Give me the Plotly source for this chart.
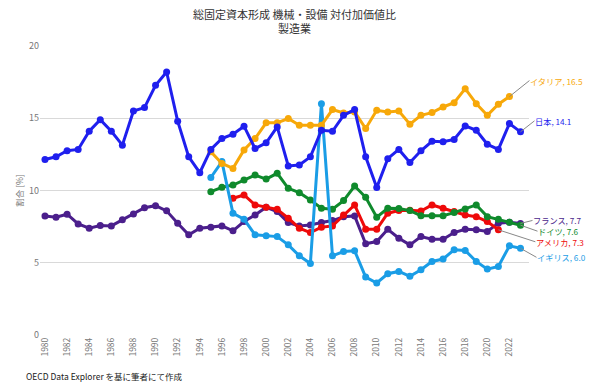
import plotly.graph_objects as go

years = list(range(1980, 2024))

japan = [12.15, 12.33, 12.75, 12.84, 14.1, 14.9, 14.1, 13.14, 15.5, 15.74, 17.28, 18.2,
         14.8, 12.33, 11.23, 12.84, 13.6, 13.9, 14.45, 12.9, 13.3, 14.4, 11.7, 11.76,
         12.33, 14.17, 14.1, 15.2, 15.6, 12.33, 10.2, 12.2, 12.84, 11.94, 12.75, 13.4,
         13.37, 13.53, 14.47, 14.17, 13.2, 12.84, 14.63, 14.06]
france = [8.24, 8.15, 8.36, 7.69, 7.39, 7.57, 7.55, 7.97, 8.38, 8.81, 8.95, 8.59,
          7.74, 6.93, 7.39, 7.46, 7.55, 7.21, 7.85, 8.31, 8.84, 8.54, 7.78, 7.55,
          7.62, 7.78, 7.92, 8.19, 8.24, 6.31, 6.47, 7.32, 6.7, 6.24, 6.81, 6.63,
          6.63, 7.09, 7.32, 7.28, 7.16, 7.74, 7.81, 7.72]
italy_years = list(range(1995, 2023))
italy = [12.68, 11.87, 11.53, 12.8, 13.6, 14.68, 14.68, 14.98, 14.52, 14.52, 14.52,
         15.6, 15.37, 15.44, 14.29, 15.55, 15.44, 15.5, 14.59, 15.2, 15.39, 15.78,
         16.08, 17.05, 16.01, 15.2, 15.97, 16.5]
uk_years = list(range(1995, 2024))
uk = [10.9, 12.0, 8.43, 8.01, 6.93, 6.86, 6.81, 6.24, 5.48, 4.95, 16.0, 5.48, 5.78,
      5.83, 4.01, 3.6, 4.24, 4.4, 4.06, 4.52, 5.09, 5.26, 5.9, 5.85, 5.09, 4.56,
      4.74, 6.17, 6.0]
germany_years = list(range(1995, 2024))
germany = [9.92, 10.22, 10.38, 10.72, 11.07, 10.79, 11.19, 10.15, 9.85, 9.34, 8.77,
           8.7, 9.3, 10.31, 9.53, 8.15, 8.77, 8.75, 8.61, 8.26, 8.26, 8.26, 8.47,
           8.72, 9.0, 8.19, 8.01, 7.81, 7.6]
usa_years = list(range(1997, 2022))
usa = [9.46, 9.69, 9.0, 8.84, 8.7, 8.08, 7.39, 7.09, 7.46, 7.55, 8.31, 9.0, 7.32,
       7.32, 8.43, 8.61, 8.63, 8.58, 9.0, 8.77, 8.54, 8.31, 8.19, 7.85, 7.28]

series = [
    ("フランス", years, france, "#4b1f8c", "フランス, 7.7", 12, -3),
    ("アメリカ", usa_years, usa, "#ee0a0a", "アメリカ, 7.3", 37, 12),
    ("ドイツ", germany_years, germany, "#0f8a2c", "ドイツ, 7.6", 17, 6),
    ("イギリス", uk_years, uk, "#1a9de6", "イギリス, 6.0", 16, 9),
    ("イタリア", italy_years, italy, "#f7a809", "イタリア, 16.5", 20, -16),
    ("日本", years, japan, "#1f1fee", "日本, 14.1", 14, -11),
]

title_font = "Noto Sans CJK JP, Noto Sans, sans-serif"

fig = go.Figure()
annotations = []
for name, xs, ys, color, label, ax, ay in series:
    fig.add_trace(go.Scatter(
        x=xs, y=ys, mode="lines+markers", name=name,
        line=dict(color=color, width=3),
        marker=dict(color=color, size=7),
        showlegend=False,
    ))
    annotations.append(dict(
        x=xs[-1], y=ys[-1], xref="x", yref="y", text=label,
        showarrow=True, arrowhead=0, arrowwidth=1, arrowcolor="#888888",
        ax=ax, ay=ay, xanchor="left", yanchor="middle",
        borderpad=0,
        font=dict(color=color, size=8.2, family=title_font),
    ))

annotations.append(dict(
    x=0.5, y=1.0, xref="paper", yref="paper", yanchor="bottom",
    text="総固定資本形成 機械・設備 対付加価値比<br>製造業", showarrow=False,
    xshift=10, yshift=8,
    font=dict(size=11, color="#333333", family=title_font),
))
annotations.append(dict(
    x=0, y=0, xref="paper", yref="paper", xanchor="left", yanchor="top",
    text="OECD Data Explorer を基に筆者にて作成", showarrow=False,
    xshift=-16, yshift=-33,
    font=dict(size=8.5, color="#222222", family=title_font),
))

fig.update_layout(
    width=590, height=385,
    margin=dict(l=40, r=60.5, t=45.5, b=49.5),
    paper_bgcolor="white", plot_bgcolor="white",
    annotations=annotations,
    font=dict(family=title_font),
)
fig.update_xaxes(
    range=[1979.55, 2023.77], tickmode="array",
    tickvals=list(range(1980, 2023, 2)),
    ticktext=[str(y) for y in range(1980, 2023, 2)],
    tickangle=-90, showgrid=False, zeroline=False, showline=False,
    tickfont=dict(size=8.5, color="#777777"), ticks="",
)
fig.update_yaxes(
    range=[0, 20], tickvals=[0, 5, 10, 15, 20], showgrid=True,
    gridcolor="#d9d9d9", gridwidth=1, zeroline=False, showline=False,
    tickfont=dict(size=9, color="#777777"), ticks="",
    title=dict(text="割合 [%]", font=dict(size=8.5, color="#777777"), standoff=4),
)
fig.write_html("out.html")
